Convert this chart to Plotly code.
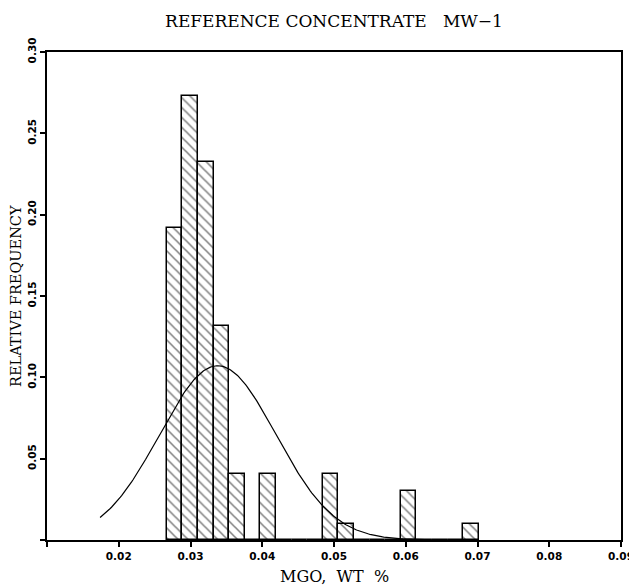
import numpy as np
import plotly.graph_objects as go

# ---- data ----
title_text = "REFERENCE CONCENTRATE   MW\u22121"
x_label = "MGO,  WT  %"
y_label = "RELATIVE FREQUENCY"

bin_start = 0.02668          # left edge of first bin
bin_width = 0.002175         # bin width
counts = [19, 27, 23, 13, 4, 0, 4, 0, 0, 0, 4, 1, 0, 0, 0, 3, 0, 0, 0, 1]
n_total = 99

# fitted normal curve
curve_mean = 0.0338
curve_sd = 0.0081
curve_xmin = 0.0174
curve_xmax = 0.0702

x_tickvals = [0.01, 0.02, 0.03, 0.04, 0.05, 0.06, 0.07, 0.08, 0.09]
x_ticktext = ["", "0.02", "0.03", "0.04", "0.05", "0.06", "0.07", "0.08", "0.09"]
y_tickvals = [0.0, 0.05, 0.10, 0.15, 0.20, 0.25, 0.30]
y_ticktext = ["", "0.05", "0.10", "0.15", "0.20", "0.25", "0.30"]

# ---- derived ----
centers = [bin_start + bin_width * (i + 0.5) for i in range(len(counts))]
rel_freq = [c / n_total for c in counts]

cx = np.linspace(curve_xmin, curve_xmax, 300)
cy = bin_width / (curve_sd * np.sqrt(2 * np.pi)) * np.exp(-0.5 * ((cx - curve_mean) / curve_sd) ** 2)

serif = "DejaVu Serif"
sans = "DejaVu Sans"

# the page body adds an 8px offset, so the figure is 8px smaller and shifted
OFF = 8
W, H = 637 - OFF, 586 - OFF
ML, MR, MT, MB = 47 - OFF, 16, 52 - OFF, 46
PW, PH = W - ML - MR, H - MT - MB
plot_bottom = MT + PH

fig = go.Figure()
fig.add_trace(go.Bar(
    x=centers, y=rel_freq, width=bin_width,
    marker=dict(
        color="white",
        line=dict(color="black", width=1.5),
        pattern=dict(shape="\\", size=7, solidity=0.22, fgcolor="black", bgcolor="white"),
    ),
    showlegend=False,
))
fig.add_trace(go.Scatter(
    x=cx, y=cy, mode="lines", line=dict(color="black", width=1.2), showlegend=False,
))

fig.update_layout(
    width=W, height=H,
    margin=dict(l=ML, r=MR, t=MT, b=MB),
    plot_bgcolor="white", paper_bgcolor="white",
    title=dict(text=title_text, x=(ML + W - MR) / 2 / W, xanchor="center",
               y=1 - (21 - OFF) / H, yanchor="middle",
               font=dict(family=serif, size=17, color="black")),
    bargap=0,
    annotations=[
        dict(text=x_label, xref="paper", yref="paper", x=0.5,
             y=-((576 - OFF) - plot_bottom) / PH,
             xanchor="center", yanchor="middle", showarrow=False,
             font=dict(family=serif, size=16, color="black")),
        dict(text=y_label, xref="paper", yref="paper", x=-(ML - (16 - OFF)) / PW, y=0.5,
             xanchor="center", yanchor="middle", showarrow=False, textangle=-90,
             font=dict(family=serif, size=14.5, color="black")),
    ],
)
fig.update_xaxes(
    range=[0.01, 0.09], tickvals=x_tickvals, ticktext=x_ticktext,
    showline=True, linewidth=2, linecolor="black", mirror=True,
    ticks="outside", ticklen=5, tickwidth=1.5, tickcolor="black",
    showgrid=False, zeroline=False, automargin=False,
    tickfont=dict(family=sans, size=10.5, color="black", weight="bold"),
)
fig.update_yaxes(
    range=[0, 0.30], tickvals=y_tickvals, ticktext=y_ticktext,
    showline=True, linewidth=2, linecolor="black", mirror=True,
    ticks="outside", ticklen=5, tickwidth=1.5, tickcolor="black",
    showgrid=False, zeroline=False, tickangle=-90, automargin=False,
    tickfont=dict(family=sans, size=10.5, color="black", weight="bold"),
)

fig.write_html("out.html")
